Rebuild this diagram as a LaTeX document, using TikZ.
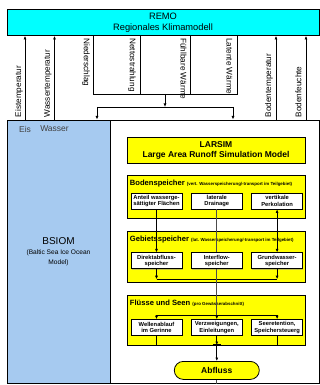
\documentclass[tikz,border=0pt]{standalone}
\usepackage{fontspec}
\setmainfont{Liberation Sans}
\usetikzlibrary{
    arrows.meta,
    positioning,
    calc,
    shadows
}
\definecolor{RemoCyan}{RGB}{0,255,255}
\definecolor{SeaBlue}{RGB}{166,202,240}
\definecolor{LarYellow}{RGB}{255,255,0}
\newcommand{\subnote}[1]{{\fontsize{4.4}{5}\selectfont #1}}
\tikzset{
  part/.style   = {draw, fill=LarYellow, line width=0.9pt, minimum width=178pt},
  proc/.style   = {draw, fill=white, line width=0.8pt, minimum width=51pt,
                   minimum height=16pt, inner sep=0pt, align=center,
                   font=\fontsize{5.8}{6.6}\selectfont\bfseries,
                   drop shadow={shadow xshift=0.8pt, shadow yshift=-0.8pt, fill=black!45}},
  flux/.style   = {font=\fontsize{8.2}{9}\selectfont, inner sep=0.5pt},
  arr/.style    = {-{Latex[length=3.5pt,width=3pt]}, line width=0.7pt},
  dbl/.style    = {{Latex[length=3.5pt,width=3pt]}-{Latex[length=3.5pt,width=3pt]}, line width=0.7pt}
}

\begin{document}
\begin{tikzpicture}[
    x=1pt, y=-1pt,
    line width=0.7pt,
    title/.style={font=\fontsize{7.6}{9}\selectfont\bfseries, inner sep=0pt, anchor=base west},
    outlet/.style={draw, fill=LarYellow, rounded corners=9pt, minimum width=85pt,
                   minimum height=18pt, font=\fontsize{8.5}{10}\selectfont\bfseries, line width=0.8pt},
    midline/.style={line width=0.7pt, black!70}
]
\useasboundingbox (0,0) rectangle (320,385);

% coupled models
\node[draw, fill=RemoCyan, minimum width=312pt, minimum height=25pt, align=center,
      font=\fontsize{9.3}{11}\selectfont] (remo) at (163,22.5) {REMO\\Regionales Klimamodell};
\node[draw, fill=SeaBlue, line width=1pt, minimum width=103pt, minimum height=263pt,
      align=center, font=\fontsize{6.6}{10}\selectfont] (bsiom) at (58.5,251.5)
      {{\fontsize{10}{12}\selectfont BSIOM}\\(Baltic Sea Ice Ocean\\Model)};
\node[draw, fill=white, line width=1pt, minimum width=209pt, minimum height=263pt] (frame) at (214.5,251.5) {};

\node[font=\fontsize{8.5}{10}\selectfont, text=black!75, inner sep=0pt] (eis) at (25,129) {Eis};
\node[font=\fontsize{8.5}{10}\selectfont, text=black!75, inner sep=0pt] (wasser) at (54.5,129) {Wasser};

% fluxes to REMO
\draw[arr] (eis.north |- bsiom.north) -- (eis.north |- remo.south);
\draw[arr] (wasser.north |- bsiom.north) -- (wasser.north |- remo.south);
\node[flux, rotate=90, anchor=west] (eist) at (19,118) {Eistemperatur};
\node[flux, rotate=90, anchor=west] (wasst) at (48,118) {Wassertemperatur};

\coordinate (bodt) at (276,120);
\coordinate (bodf) at (306,120);
\draw[arr] (bodt) -- (bodt |- remo.south);
\draw[arr] (bodf) -- (bodf |- remo.south);
\node[flux, rotate=90, anchor=west] (bodtl) at (269,118) {Bodentemperatur};
\node[flux, rotate=90, anchor=west] (bodfl) at (298.5,118) {Bodenfeuchte};

% fluxes from REMO
\coordinate (nied) at (93,94);
\coordinate (nett) at (140,94);
\coordinate (fuehl) at (190,94);
\coordinate (lat) at (237,94);
\coordinate (merge) at (165,94);
\coordinate (tosea) at (97,107);
\coordinate (toland) at (233,107);
\draw (nied |- remo.south) -- (nied) -- (lat) -- (lat |- remo.south);
\draw (nett |- remo.south) -- (nett);
\draw (fuehl |- remo.south) -- (fuehl);
\draw[arr] (merge) -- (merge |- tosea);
\draw (tosea) -- (toland);
\draw[arr] (tosea) -- (tosea |- bsiom.north);
\draw[arr] (toland) -- (toland |- frame.north);
\node[flux, rotate=-90, anchor=west] (niedl) at (86,37.5) {Niederschlag};
\node[flux, rotate=-90, anchor=west] (nettl) at (132,37.5) {Nettostrahlung};
\node[flux, rotate=-90, anchor=west] (fuehll) at (183.5,37.5) {Fühlbare Wärme};
\node[flux, rotate=-90, anchor=west] (latl) at (229.5,37.5) {Latente Wärme};

% LARSIM
\node[part, minimum height=26pt, align=center, font=\fontsize{8.5}{10}\selectfont\bfseries]
      (larsim) at (216,150) {LARSIM\\Large Area Runoff Simulation Model};
\node[part, minimum height=43pt] (boden) at (216,196.5) {};
\node[part, minimum height=51pt] (gebiet) at (216,256.5) {};
\node[part, minimum height=50pt] (fluss) at (216,320) {};

\node[title] (bodent) at ($(boden.north west)+(3,10.5)$)
      {Bodenspeicher \subnote{(vert. Wasserspeicherung/-transport im Teilgebiet)}};
\node[title] (gebiett) at ($(gebiet.north west)+(3,10.5)$)
      {Gebietsspeicher \subnote{(lat. Wasserspeicherung/-transport im Teilgebiet)}};
\node[title] (flusst) at ($(fluss.north west)+(3,10.5)$)
      {Flüsse und Seen \subnote{(pro Gewässerabschnitt)}};

\node[proc] (b1) at (156.5,201) {Anteil wasserge-\\sättigter Flächen};
\node[proc, right=8.5pt of b1] (b2) {laterale\\Drainage};
\node[proc, right=8.5pt of b2] (b3) {vertikale\\Perkolation};
\node[proc, below=43pt of b1] (b4) {Direktabfluss-\\speicher};
\node[proc, below=43pt of b2] (b5) {Interflow-\\speicher};
\node[proc, below=43pt of b3] (b6) {Grundwasser-\\speicher};
\node[proc, below=50pt of b4] (b7) {Wellenablauf\\im Gerinne};
\node[proc, below=50pt of b5] (b8) {Verzweigungen,\\Einleitungen};
\node[proc, below=50pt of b6] (b9) {Seeretention,\\Speichersteuerg};

\draw[arr] (b1) -- (b4);
\draw[midline] (b2) -- (b5);
\draw[dbl] (b3) -- (b6);

\coordinate (gsum) at ($(b5.south)+(0,10)$);
\draw[arr] (b4.south) -- (b4.south |- gsum);
\draw[arr] (b6.south) -- (b6.south |- gsum);
\draw[line width=1.1pt] (b4.south |- gsum) -- (b6.south |- gsum);

\coordinate (fsplit) at ($(b8.north)+(0,-4)$);
\draw[midline] (b5) -- (fsplit);
\draw (b7.north |- fsplit) -- (b9.north |- fsplit);
\draw[arr] (b7.north |- fsplit) -- (b7);
\draw[arr] (fsplit) -- (b8);
\draw[arr] (b9.north |- fsplit) -- (b9);

\coordinate (fsum) at ($(b8.south)+(0,9)$);
\draw (b7) -- (b7.south |- fsum) -- (b9.south |- fsum) -- (b9);
\draw[arr] (b8) -- (fsum);
\draw[line width=1.8pt] ($(fsum)+(-4,0)$) -- ($(fsum)+(4,0)$);

\node[outlet, below=16pt of fsum] (abfluss) {Abfluss};
\draw[arr] (fsum) -- (abfluss);
\draw[midline] (abfluss) -- (abfluss |- frame.south);
\end{tikzpicture}
\end{document}
